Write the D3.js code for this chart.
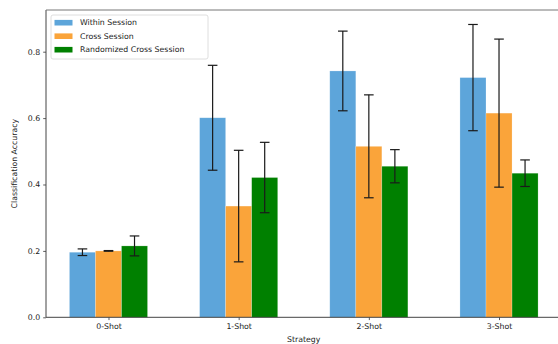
<!DOCTYPE html>
<html>
<head>
<meta charset="utf-8">
<script src="https://cdn.jsdelivr.net/npm/d3@7"></script>
<style>
  html, body { margin: 0; padding: 0; background: #fff; }
  svg { display: block; }
  text { font-family: "DejaVu Sans", sans-serif; fill: #222; }
</style>
</head>
<body>
<svg id="chart" width="558" height="344"></svg>
<script>
// Classification accuracy per few-shot strategy (mean ± std)
const strategies = ["0-Shot", "1-Shot", "2-Shot", "3-Shot"];
const seriesNames = ["Within Session", "Cross Session", "Randomized Cross Session"];
const withinMean = [0.196, 0.601, 0.742, 0.722];
const withinErr  = [0.010, 0.158, 0.120, 0.160];
const crossMean  = [0.200, 0.335, 0.515, 0.615];
const crossErr   = [0.001, 0.168, 0.155, 0.223];
const randMean   = [0.215, 0.421, 0.455, 0.434];
const randErr    = [0.030, 0.106, 0.050, 0.040];
const yTicks = [0.0, 0.2, 0.4, 0.6, 0.8];
const colors = ["#5DA5DA", "#FAA43A", "#008000"];

const series = [
  { name: seriesNames[0], mean: withinMean, err: withinErr, color: colors[0] },
  { name: seriesNames[1], mean: crossMean,  err: crossErr,  color: colors[1] },
  { name: seriesNames[2], mean: randMean,   err: randErr,   color: colors[2] }
];

const svg = d3.select("#chart");
const plotLeft = 46, plotTop = 10, plotBottom = 317.3, plotRight = 561.5;
const barW = 0.2;
const offsets = [-barW, 0, barW];

// Continuous x in category units so the plot runs past the right edge
const x = d3.scaleLinear().domain([-0.48, 3.48]).range([plotLeft, plotRight]);
const y = d3.scaleLinear().domain([0, 0.9256]).range([plotBottom, plotTop]);
const fs = 7.8;

// Bars
series.forEach((s, si) => {
  svg.append("g").selectAll("rect")
    .data(s.mean)
    .join("rect")
    .attr("x", (d, i) => x(i + offsets[si] - barW / 2))
    .attr("width", x(barW) - x(0))
    .attr("y", d => y(d))
    .attr("height", d => y(0) - y(d))
    .attr("fill", s.color)
    .attr("stroke", "#ffffff")
    .attr("stroke-opacity", 0.35)
    .attr("stroke-width", 0.6);
});

// Error bars with caps
const cap = 4.8;
series.forEach((s, si) => {
  const g = svg.append("g").attr("stroke", "#1a1a1a").attr("stroke-width", 1.2);
  s.mean.forEach((m, i) => {
    const cx = x(i + offsets[si]);
    const y1 = y(m + s.err[i]), y0 = y(m - s.err[i]);
    g.append("line").attr("x1", cx).attr("x2", cx).attr("y1", y1).attr("y2", y0);
    g.append("line").attr("x1", cx - cap).attr("x2", cx + cap).attr("y1", y1).attr("y2", y1);
    g.append("line").attr("x1", cx - cap).attr("x2", cx + cap).attr("y1", y0).attr("y2", y0);
  });
});

// Axes
const yAxis = d3.axisLeft(y).tickValues(yTicks).tickFormat(d3.format(".1f")).tickSize(2.8).tickPadding(3);
const gy = svg.append("g").attr("transform", `translate(${plotLeft},0)`).call(yAxis);
gy.select(".domain").remove();
gy.selectAll("text").style("font-size", fs + "px").attr("font-family", "DejaVu Sans").attr("fill", "#222");
gy.selectAll(".tick line").attr("stroke", "#333").attr("stroke-width", 0.8);

const xAxis = d3.axisBottom(x).tickValues(d3.range(strategies.length))
  .tickFormat(i => strategies[i]).tickSize(2.8).tickPadding(3);
const gx = svg.append("g").attr("transform", `translate(0,${plotBottom})`).call(xAxis);
gx.select(".domain").remove();
gx.selectAll("text").style("font-size", fs + "px").attr("font-family", "DejaVu Sans").attr("fill", "#222");
gx.selectAll(".tick line").attr("stroke", "#333").attr("stroke-width", 0.8);

// Spines
const spine = svg.append("g").attr("stroke", "#444").attr("stroke-width", 1).attr("fill", "none");
spine.append("line").attr("x1", plotLeft).attr("x2", plotLeft).attr("y1", plotTop).attr("y2", plotBottom);
spine.append("line").attr("x1", plotLeft).attr("x2", plotRight).attr("y1", plotBottom).attr("y2", plotBottom);
spine.append("line").attr("x1", plotLeft).attr("x2", plotRight).attr("y1", plotTop).attr("y2", plotTop)
  .attr("stroke", "#777");

// Axis titles
svg.append("text")
  .attr("transform", `translate(17,${(plotTop + plotBottom) / 2}) rotate(-90)`)
  .attr("text-anchor", "middle")
  .style("font-size", fs + "px")
  .text("Classification Accuracy");
svg.append("text")
  .attr("x", (plotLeft + plotRight) / 2)
  .attr("y", 342)
  .attr("text-anchor", "middle")
  .style("font-size", fs + "px")
  .text("Strategy");

// Legend
const lg = svg.append("g").attr("transform", "translate(51,15)");
lg.append("rect").attr("width", 157).attr("height", 44).attr("rx", 2)
  .attr("fill", "#fff").attr("fill-opacity", 0.85)
  .attr("stroke", "#d6d6d6").attr("stroke-width", 0.8);
series.forEach((s, i) => {
  const row = lg.append("g").attr("transform", `translate(0,${7.7 + i * 13.5})`);
  row.append("rect").attr("x", 3.5).attr("y", -2.8).attr("width", 18).attr("height", 5.6).attr("fill", s.color);
  row.append("text").attr("x", 29).attr("y", 0).attr("dy", "0.35em")
    .style("font-size", fs + "px").text(s.name);
});
</script>
</body>
</html>
